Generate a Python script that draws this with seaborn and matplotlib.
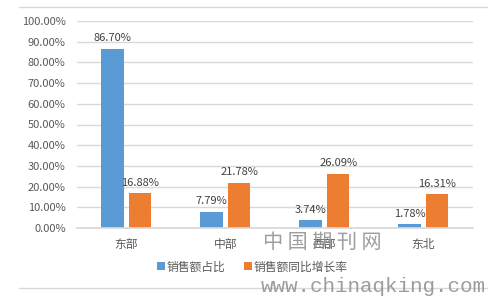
import matplotlib
matplotlib.use("Agg")
import matplotlib.pyplot as plt
import seaborn as sns
import pandas as pd
from matplotlib.lines import Line2D

categories = ["东部", "中部", "西部", "东北"]
share = [86.70, 7.79, 3.74, 1.78]
growth = [16.88, 21.78, 26.09, 16.31]
series_names = ["销售额占比", "销售额同比增长率"]
yticks = [0, 10, 20, 30, 40, 50, 60, 70, 80, 90, 100]

df = pd.DataFrame({
    "region": categories * 2,
    "value": share + growth,
    "series": [series_names[0]] * 4 + [series_names[1]] * 4,
})

sns.set_theme(style="white")
plt.rcParams['font.family'] = ['Noto Sans CJK SC', 'DejaVu Sans']

fig = plt.figure(figsize=(4.89, 3.0), dpi=100)
ax = fig.add_axes([0.157, 0.24, 0.81, 0.69])

palette = {series_names[0]: "#5b9bd5", series_names[1]: "#ed7d31"}
sns.barplot(data=df, x="region", y="value", hue="series", order=categories,
            hue_order=series_names, palette=palette, width=0.56, gap=0.2,
            saturation=1, ax=ax, legend=False, linewidth=0)

ax.set_ylim(0, 100)
ax.set_yticks(yticks)
ax.set_yticklabels([f"{t:.2f}%" for t in yticks])
ax.set_xlabel("")
ax.set_ylabel("")
ax.yaxis.grid(True, color="#d9d9d9", linewidth=1)
ax.set_axisbelow(True)
for s in ["top", "right", "left"]:
    ax.spines[s].set_visible(False)
ax.spines["bottom"].set_color("#d9d9d9")
ax.tick_params(axis="both", length=0, colors="#595959", labelsize=8)
ax.tick_params(axis="x", labelsize=8.5, pad=7)
ax.tick_params(axis="y", pad=8)

for cont in ax.containers:
    ax.bar_label(cont, labels=[f"{v:.2f}%" for v in cont.datavalues],
                 padding=4, fontsize=8, color="#404040")

handles = [Line2D([0], [0], marker="s", linestyle="", markersize=6,
                  markerfacecolor=palette[n], markeredgewidth=0) for n in series_names]
fig.legend(handles, series_names, loc="center", bbox_to_anchor=(0.515, 0.11),
           ncol=2, frameon=False, fontsize=8.5, handletextpad=0.1,
           columnspacing=1.5, labelcolor="#595959", handlelength=0.8)

# chart area border lines
fig.add_artist(Line2D([19/489, 487/489], [1-7/300, 1-7/300], color="#d9d9d9", linewidth=1))
fig.add_artist(Line2D([19/489, 487/489], [1-288/300, 1-288/300], color="#d9d9d9", linewidth=1))

# watermark
fig.text(322/489, 1-242/300, "中 国 期 刊 网", ha="center", va="center",
         fontsize=14.5, color="#8c8c8c", alpha=0.85)
fig.text(373/489, 1-287/300, "www.chinaqking.com", ha="center", va="center",
         fontsize=15, color="#8c8c8c", family="Liberation Mono", alpha=0.85)

fig.savefig("out.png", dpi=100)
